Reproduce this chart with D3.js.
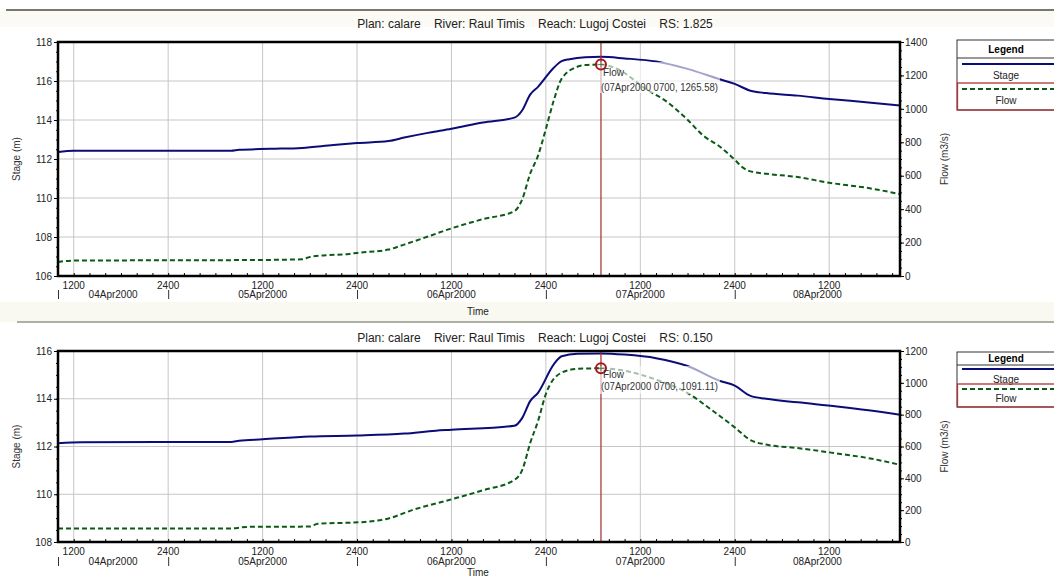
<!DOCTYPE html>
<html>
<head>
<meta charset="utf-8">
<script src="https://cdn.jsdelivr.net/npm/d3@7"></script>
<style>
  body { margin: 0; background: #fff; }
  svg { display: block; font-family: "Liberation Sans", Arial, sans-serif; }
</style>
</head>
<body>
<div id="chart"></div>
<script>
// ── data ──────────────────────────────────────────────────────────
const xStart = '04Apr2000 1000'
const xEnd   = '08Apr2000 2100'
const markTime = '07Apr2000 0700'

// RS 1.825
const topStageTimes = ['04Apr2000 1000','04Apr2000 1200','05Apr2000 0800','05Apr2000 0900','05Apr2000 1300',
  '05Apr2000 1700','05Apr2000 2100','06Apr2000 0000','06Apr2000 0400','06Apr2000 0600','06Apr2000 0900',
  '06Apr2000 1200','06Apr2000 1600','06Apr2000 2000','06Apr2000 2100','06Apr2000 2200','06Apr2000 2300',
  '07Apr2000 0100','07Apr2000 0200','07Apr2000 0300','07Apr2000 0500','07Apr2000 0700','07Apr2000 1000',
  '07Apr2000 1400','07Apr2000 1800','07Apr2000 2200','08Apr2000 0000','08Apr2000 0200','08Apr2000 0400',
  '08Apr2000 0800','08Apr2000 1200','08Apr2000 1700','08Apr2000 2100']
const topStage = [112.36,112.42,112.42,112.47,112.52,112.57,112.72,112.82,112.92,113.10,113.34,113.55,113.87,
  114.12,114.50,115.30,115.70,116.68,117.02,117.12,117.22,117.24,117.16,117.00,116.62,116.10,115.85,115.50,
  115.38,115.25,115.08,114.90,114.74]

const topFlowTimes = ['04Apr2000 1000','04Apr2000 1200','05Apr2000 1200','05Apr2000 1700','05Apr2000 1800',
  '05Apr2000 2000','05Apr2000 2300','06Apr2000 0000','06Apr2000 0400','06Apr2000 0600','06Apr2000 0900',
  '06Apr2000 1200','06Apr2000 1600','06Apr2000 2000','06Apr2000 2100','06Apr2000 2200','06Apr2000 2300',
  '07Apr2000 0000','07Apr2000 0100','07Apr2000 0200','07Apr2000 0400','07Apr2000 0500','07Apr2000 0700',
  '07Apr2000 0900','07Apr2000 1300','07Apr2000 1500','07Apr2000 1800','07Apr2000 2000','07Apr2000 2200',
  '08Apr2000 0000','08Apr2000 0100','08Apr2000 0200','08Apr2000 0400','08Apr2000 0800','08Apr2000 1200',
  '08Apr2000 1700','08Apr2000 2100']
const topFlow = [84,92,96,100,114,124,132,138,158,188,236,285,340,388,460,612,720,880,1050,1180,1252,1262,
  1265.58,1240,1110,1055,935,840,778,696,650,626,612,592,558,526,490]

// RS 0.150
const botStageTimes = ['04Apr2000 1000','04Apr2000 1300','05Apr2000 0800','05Apr2000 0900','05Apr2000 1200',
  '05Apr2000 1800','06Apr2000 0000','06Apr2000 0600','06Apr2000 1000','06Apr2000 1200','06Apr2000 2000',
  '06Apr2000 2100','06Apr2000 2200','06Apr2000 2300','07Apr2000 0100','07Apr2000 0200','07Apr2000 0400',
  '07Apr2000 0700','07Apr2000 1000','07Apr2000 1400','07Apr2000 1800','07Apr2000 2200','08Apr2000 0000',
  '08Apr2000 0200','08Apr2000 0400','08Apr2000 0800','08Apr2000 1300','08Apr2000 1700','08Apr2000 2100']
const botStage = [112.14,112.18,112.19,112.24,112.30,112.42,112.46,112.54,112.66,112.70,112.87,113.20,113.90,
  114.25,115.44,115.78,115.89,115.90,115.85,115.70,115.37,114.76,114.55,114.12,114.00,113.85,113.68,113.52,113.33]

const botFlowTimes = ['04Apr2000 1000','05Apr2000 0800','05Apr2000 1000','05Apr2000 1800','05Apr2000 1900',
  '06Apr2000 0100','06Apr2000 0400','06Apr2000 0700','06Apr2000 1200','06Apr2000 1600','06Apr2000 2000',
  '06Apr2000 2100','06Apr2000 2200','06Apr2000 2300','07Apr2000 0000','07Apr2000 0200','07Apr2000 0400',
  '07Apr2000 0700','07Apr2000 1000','07Apr2000 1400','07Apr2000 1800','07Apr2000 2100','08Apr2000 0000',
  '08Apr2000 0200','08Apr2000 0400','08Apr2000 0800','08Apr2000 1300','08Apr2000 1700','08Apr2000 2100']
const botFlow = [85,85,95,97,114,126,148,200,268,325,390,453,621,760,930,1064,1088,1091.11,1076,1020,936,832,
  720,640,612,590,556,527,485]

const stageTicksTop = [106,108,110,112,114,116,118]
const flowTicksTop  = [0,200,400,600,800,1000,1200,1400]
const stageTicksBot = [108,110,112,114,116]
const flowTicksBot  = [0,200,400,600,800,1000,1200]

// ── setup ─────────────────────────────────────────────────────────
const W = 1054, H = 576
const parse = d3.timeParse('%d%b%Y %H%M')
const fmtDate = d3.timeFormat('%d%b%Y')
const svg = d3.select('#chart').append('svg').attr('width', W).attr('height', H)
svg.append('rect').attr('width', W).attr('height', H).attr('fill', '#fff')

const t0 = parse(xStart), t1 = parse(xEnd)
const x = d3.scaleTime().domain([t0, t1]).range([58, 900])
const halfDays  = d3.timeHour.every(12).range(t0, t1)
const midnights = halfDays.filter(d => d.getHours() === 0)
// date label sits in the middle of the visible part of each day
const days = d3.timeDay.range(d3.timeDay.floor(t0), t1).map(d => {
  const a = d < t0 ? t0 : d
  const e = d3.timeDay.offset(d, 1)
  const b = e > t1 ? t1 : e
  return { day: d, mid: (x(a) + x(b)) / 2 }
})

const STAGE_COLOR = '#0c0c78', FLOW_COLOR = '#0b5a16', MARK_COLOR = '#a52a2a', GRID = '#c6c6c6'

// window chrome: top bar and panel separator
svg.append('rect').attr('x', 0).attr('y', 11).attr('width', W).attr('height', 16).attr('fill', '#fbfaf4')
svg.append('line').attr('x1', 6).attr('x2', W).attr('y1', 10).attr('y2', 10)
  .attr('stroke', '#77776c').attr('stroke-width', 2)
svg.append('rect').attr('x', 0).attr('y', 302).attr('width', W).attr('height', 20).attr('fill', '#f9f8f1')
svg.append('line').attr('x1', 17).attr('x2', W).attr('y1', 322).attr('y2', 322)
  .attr('stroke', '#b0afa6').attr('stroke-width', 2)

function drawPanel(p) {
  const g = svg.append('g')
  const yS = d3.scaleLinear().domain(p.stageDomain).range([p.bottom, p.top])
  const yF = d3.scaleLinear().domain(p.flowDomain).range([p.bottom, p.top])

  // title
  g.append('text').attr('x', 535).attr('y', p.titleY).attr('text-anchor', 'middle')
    .style('font-size', '12px').style('white-space', 'pre').attr('fill', '#222').text(p.title)

  // grid
  g.append('g').selectAll('line').data(p.stageTicks.slice(1, -1)).join('line')
    .attr('x1', 58).attr('x2', 900).attr('y1', d => yS(d)).attr('y2', d => yS(d))
    .attr('stroke', GRID).attr('stroke-width', 1)
  g.append('g').selectAll('line').data(halfDays).join('line')
    .attr('x1', d => x(d)).attr('x2', d => x(d)).attr('y1', p.top).attr('y2', p.bottom)
    .attr('stroke', GRID).attr('stroke-width', 1)

  // lines
  const stageData = p.stageTimes.map((t, i) => ({ t: parse(t), v: p.stage[i] }))
  const flowData  = p.flowTimes.map((t, i) => ({ t: parse(t), v: p.flow[i] }))
  g.append('path').datum(flowData)
    .attr('d', d3.line().x(d => x(d.t)).y(d => yF(d.v)).curve(d3.curveMonotoneX))
    .attr('fill', 'none').attr('stroke', FLOW_COLOR).attr('stroke-width', 2).attr('stroke-dasharray', '5,3')
  g.append('path').datum(stageData)
    .attr('d', d3.line().x(d => x(d.t)).y(d => yS(d.v)).curve(d3.curveMonotoneX))
    .attr('fill', 'none').attr('stroke', STAGE_COLOR).attr('stroke-width', 2)

  // marker line + label
  const mt = parse(markTime)
  const mv = p.flow[p.flowTimes.indexOf(markTime)]
  g.append('line').attr('x1', x(mt)).attr('x2', x(mt)).attr('y1', p.top).attr('y2', p.bottom)
    .attr('stroke', MARK_COLOR).attr('stroke-width', 1.2)
  g.append('rect').attr('x', x(mt) - 1).attr('y', p.labelBox[0]).attr('width', 120)
    .attr('height', p.labelBox[1] - p.labelBox[0]).attr('fill', '#fff').attr('opacity', 0.62)
  g.append('circle').attr('cx', x(mt)).attr('cy', yF(mv)).attr('r', 5)
    .attr('fill', 'none').attr('stroke', '#a81818').attr('stroke-width', 2)
  g.append('path').attr('d', `M${x(mt) - 3},${yF(mv)}h6M${x(mt)},${yF(mv) - 3}v6`)
    .attr('stroke', '#555').attr('stroke-width', 0.8)
  g.append('text').attr('x', x(mt) + 2).attr('y', p.labelY[0]).style('font-size', '10px')
    .attr('fill', '#333').text('Flow')
  g.append('text').attr('x', x(mt)).attr('y', p.labelY[1]).style('font-size', '10px')
    .attr('fill', '#333').attr('textLength', 117).attr('lengthAdjust', 'spacingAndGlyphs')
    .text(`(${markTime}, ${d3.format('.2f')(mv)})`)

  // left axis
  const gl = g.append('g').attr('transform', 'translate(58,0)')
  gl.append('g').call(d3.axisLeft(yS).tickValues(d3.range(p.stageDomain[0], p.stageDomain[1] + 0.01, 0.5))
    .tickSize(2).tickFormat(''))
  gl.append('g').call(d3.axisLeft(yS).tickValues(p.stageTicks).tickSize(4).tickPadding(2).tickFormat(d3.format('d')))
  gl.selectAll('.domain').remove()
  gl.selectAll('text').style('font-size', '10px').attr('fill', '#222')

  // right axis
  const gr = g.append('g').attr('transform', 'translate(900,0)')
  gr.append('g').call(d3.axisRight(yF).tickValues(d3.range(0, p.flowDomain[1] + 1, 50)).tickSize(2).tickFormat(''))
  gr.append('g').call(d3.axisRight(yF).tickValues(p.flowTicks).tickSize(4).tickPadding(1).tickFormat(d3.format('d')))
  gr.selectAll('.domain').remove()
  gr.selectAll('text').style('font-size', '10px').attr('fill', '#222')

  // bottom axis: inward ticks every 2 h
  const gb = g.append('g').attr('transform', `translate(0,${p.bottom})`)
  gb.call(d3.axisBottom(x).ticks(d3.timeHour.every(2)).tickSizeInner(-3).tickSizeOuter(0).tickFormat(''))
  gb.selectAll('.domain').remove()
  g.append('g').selectAll('text').data(halfDays).join('text')
    .attr('x', d => x(d)).attr('y', p.bottom + p.hourDy).attr('text-anchor', 'middle')
    .style('font-size', '10px').attr('fill', '#222')
    .text(d => d.getHours() === 0 ? '2400' : '1200')
  g.append('g').selectAll('text').data(days).join('text')
    .attr('x', d => d.mid).attr('y', p.bottom + p.dateDy).attr('text-anchor', 'middle')
    .style('font-size', '10px').attr('fill', '#222').text(d => fmtDate(d.day))
  g.append('g').selectAll('line').data([t0, ...midnights]).join('line')
    .attr('x1', d => x(d) + 0.5).attr('x2', d => x(d) + 0.5)
    .attr('y1', p.bottom + p.dateDy - 8).attr('y2', p.bottom + p.dateDy + 1)
    .attr('stroke', '#333').attr('stroke-width', 1)
  g.append('text').attr('x', 478).attr('y', p.bottom + p.timeDy).attr('text-anchor', 'middle')
    .style('font-size', '10px').attr('fill', '#222').text('Time')

  // frame
  g.append('rect').attr('x', 58).attr('y', p.top).attr('width', 842).attr('height', p.bottom - p.top)
    .attr('fill', 'none').attr('stroke', '#000').attr('stroke-width', 2.5)

  // axis titles
  g.append('text').attr('transform', `translate(20,${(p.top + p.bottom) / 2}) rotate(-90)`)
    .attr('text-anchor', 'middle').style('font-size', '10px').attr('fill', '#333').text('Stage (m)')
  g.append('text').attr('transform', `translate(948,${(p.top + p.bottom) / 2}) rotate(-90)`)
    .attr('text-anchor', 'middle').style('font-size', '10px').attr('fill', '#333').text('Flow (m3/s)')

  // legend
  const L = p.legend, lx = 957
  const lg = g.append('g')
  lg.append('rect').attr('x', lx).attr('y', L.top).attr('width', 130).attr('height', L.bottom - L.top)
    .attr('fill', '#fff').attr('stroke', '#333').attr('stroke-width', 1)
  lg.append('line').attr('x1', lx).attr('x2', W).attr('y1', L.head).attr('y2', L.head).attr('stroke', '#333')
  lg.append('text').attr('x', 1006).attr('y', (L.top + L.head) / 2 + 3.5).attr('text-anchor', 'middle')
    .style('font-size', '10px').style('font-weight', 'bold').text('Legend')
  lg.append('line').attr('x1', lx + 5).attr('x2', W).attr('y1', L.stageLine).attr('y2', L.stageLine)
    .attr('stroke', STAGE_COLOR).attr('stroke-width', 2)
  lg.append('text').attr('x', 1006).attr('y', L.stageText + 3.5).attr('text-anchor', 'middle')
    .style('font-size', '10px').attr('fill', '#222').text('Stage')
  lg.append('rect').attr('x', lx + 0.5).attr('y', L.flowBox).attr('width', 130).attr('height', L.bottom - L.flowBox)
    .attr('fill', 'none').attr('stroke', '#b03535').attr('stroke-width', 1.3)
  lg.append('line').attr('x1', lx + 5).attr('x2', W).attr('y1', L.flowLine).attr('y2', L.flowLine)
    .attr('stroke', FLOW_COLOR).attr('stroke-width', 2).attr('stroke-dasharray', '5,3')
  lg.append('text').attr('x', 1006).attr('y', L.flowText + 3.5).attr('text-anchor', 'middle')
    .style('font-size', '10px').attr('fill', '#222').text('Flow')
}

drawPanel({
  title: 'Plan: calare    River: Raul Timis    Reach: Lugoj Costei    RS: 1.825', titleY: 28,
  top: 42, bottom: 276, stageDomain: [106, 118], flowDomain: [0, 1400],
  stageTicks: stageTicksTop, flowTicks: flowTicksTop,
  stageTimes: topStageTimes, stage: topStage, flowTimes: topFlowTimes, flow: topFlow,
  labelBox: [62, 93], labelY: [76, 91],
  hourDy: 13, dateDy: 22, timeDy: 39,
  legend: { top: 40, head: 58, stageLine: 64, stageText: 75, flowBox: 83, flowLine: 89, flowText: 100, bottom: 110 }
})

drawPanel({
  title: 'Plan: calare    River: Raul Timis    Reach: Lugoj Costei    RS: 0.150', titleY: 341.5,
  top: 351, bottom: 542, stageDomain: [108, 116], flowDomain: [0, 1200],
  stageTicks: stageTicksBot, flowTicks: flowTicksBot,
  stageTimes: botStageTimes, stage: botStage, flowTimes: botFlowTimes, flow: botFlow,
  labelBox: [366, 394], labelY: [378, 390],
  hourDy: 13, dateDy: 23, timeDy: 33.5,
  legend: { top: 352, head: 365, stageLine: 369, stageText: 379, flowBox: 384, flowLine: 389, flowText: 398, bottom: 407 }
})
</script>
</body>
</html>
